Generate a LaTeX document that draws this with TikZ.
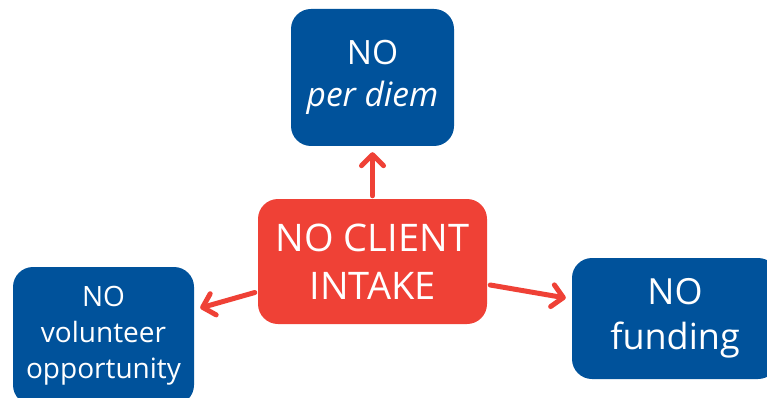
\documentclass[tikz,border=0pt]{standalone}
\usepackage{fontspec}
\setmainfont{Open Sans}
\usetikzlibrary{arrows.meta,calc}
\definecolor{boxblue}{RGB}{0,82,155}
\definecolor{boxred}{RGB}{239,65,54}
\tikzset{
  bluebox/.style={fill=boxblue, text=white, rounded corners=20pt, align=center, inner sep=0pt},
  redbox/.style={fill=boxred, text=white, rounded corners=20pt, align=center, inner sep=0pt},
  conn/.style={draw=boxred, line width=5pt, line cap=round, -{Straight Barb[length=11pt,width=22pt,round]}}
}
\begin{document}
\begin{tikzpicture}[x=1pt,y=-1pt]
\useasboundingbox (0,0) rectangle (767,398);
\clip (0,0) rectangle (767,398);
\node[redbox, minimum width=229pt, minimum height=125pt, font=\fontsize{38pt}{48pt}\selectfont] (c) at (372.5,261.5)
  {NO CLIENT\\INTAKE};
\node[bluebox, minimum width=163pt, minimum height=137pt, font=\fontsize{33.5pt}{42pt}\selectfont] (t) at (372.5,77.5)
  {NO\\\textit{per diem}};
\node[bluebox, minimum width=181pt, minimum height=138pt, font=\fontsize{28pt}{36pt}\selectfont] (l) at (103.5,336)
  {NO\\volunteer\\opportunity};
\node[bluebox, minimum width=206pt, minimum height=121pt, font=\fontsize{36pt}{45pt}\selectfont] (r) at (675,318.5)
  {NO\\funding};
\coordinate (ts) at ([yshift=3pt]c.north);
\coordinate (te) at ([yshift=-6pt]t.south);
\coordinate (ls) at ([xshift=-3pt,yshift=-31pt]c.west);
\coordinate (le) at ([xshift=6pt,yshift=28pt]l.east);
\coordinate (rs) at ([xshift=3pt,yshift=-23.5pt]c.east);
\coordinate (re) at ([xshift=-6pt,yshift=20.5pt]r.west);
\draw[conn] (ts) -- (te);
\draw[conn] (ls) -- (le);
\draw[conn] (rs) -- (re);
\end{tikzpicture}
\end{document}
